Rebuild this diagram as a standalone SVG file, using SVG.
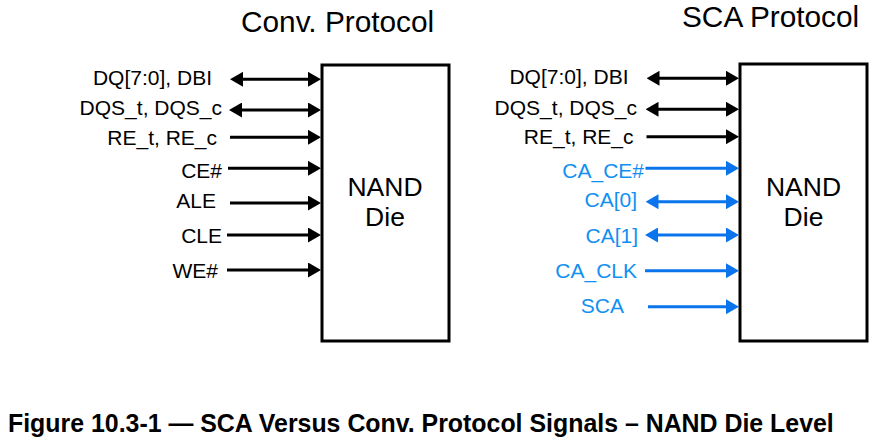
<svg xmlns="http://www.w3.org/2000/svg" width="883" height="444" viewBox="0 0 883 444">
<style>
  text { font-family: "Liberation Sans", Arial, sans-serif; }
  .title { font-size: 29.8px; fill: #000; }
  .lbl { font-size: 21px; text-anchor: end; fill: #000; }
  .lbl.blue { fill: #1190f2; }
  .die { font-size: 26.5px; text-anchor: middle; fill: #000; }
  .box { fill: #fff; stroke: #000; stroke-width: 3; }
  .w { stroke: #000; stroke-width: 3; fill: none; }
  .w.blue { stroke: #0a74ec; }
  .cap { font-size: 24.9px; font-weight: bold; fill: #000; }
</style>
<defs>
  <marker id="ah" markerUnits="userSpaceOnUse" markerWidth="13" markerHeight="15" refX="3" refY="7.5" orient="auto-start-reverse" viewBox="0 0 13 15">
    <path d="M0,0 L13,7.5 L0,15 z" fill="#000"/>
  </marker>
  <marker id="ahb" markerUnits="userSpaceOnUse" markerWidth="13" markerHeight="15" refX="3" refY="7.5" orient="auto-start-reverse" viewBox="0 0 13 15">
    <path d="M0,0 L13,7.5 L0,15 z" fill="#0a74ec"/>
  </marker>
</defs>

<rect width="883" height="444" fill="#fff"/>

<text class="title" x="241" y="31.7">Conv. Protocol</text>
<text class="title" x="682" y="26.7">SCA Protocol</text>

<g id="conv-die">
  <rect class="box" x="322" y="65" width="127" height="276"/>
  <text class="die" x="385" y="196">NAND</text>
  <text class="die" x="385" y="226">Die</text>
</g>

<g id="sca-die">
  <rect class="box" x="740" y="64" width="127" height="277"/>
  <text class="die" x="803.5" y="196">NAND</text>
  <text class="die" x="803.5" y="226">Die</text>
</g>

<g id="conv-labels">
  <text class="lbl" x="212" y="85">DQ[7:0], DBI</text>
  <text class="lbl" x="222" y="115">DQS_t, DQS_c</text>
  <text class="lbl" x="217" y="145">RE_t, RE_c</text>
  <text class="lbl" x="222" y="178">CE#</text>
  <text class="lbl" x="216" y="208.3">ALE</text>
  <text class="lbl" x="222" y="242.7">CLE</text>
  <text class="lbl" x="218" y="277.7">WE#</text>
</g>

<g id="sca-labels">
  <text class="lbl" x="628.5" y="84.3">DQ[7:0], DBI</text>
  <text class="lbl" x="637" y="115">DQS_t, DQS_c</text>
  <text class="lbl" x="633.5" y="144.3">RE_t, RE_c</text>
  <text class="lbl blue" x="644" y="177.7">CA_CE#</text>
  <text class="lbl blue" x="637" y="207.3">CA[0]</text>
  <text class="lbl blue" x="638" y="242.7">CA[1]</text>
  <text class="lbl blue" x="637" y="277.7">CA_CLK</text>
  <text class="lbl blue" x="624" y="312.7">SCA</text>
</g>

<g id="connectors">
  <line class="w" x1="240" y1="79.3" x2="311" y2="79.3" marker-start="url(#ah)" marker-end="url(#ah)"/>
  <line class="w" x1="239" y1="110" x2="311" y2="110" marker-start="url(#ah)" marker-end="url(#ah)"/>
  <line class="w" x1="230" y1="137.3" x2="311" y2="137.3" marker-end="url(#ah)"/>
  <line class="w" x1="228" y1="168.3" x2="311" y2="168.3" marker-end="url(#ah)"/>
  <line class="w" x1="230" y1="203" x2="311" y2="203" marker-end="url(#ah)"/>
  <line class="w" x1="227" y1="235" x2="311" y2="235" marker-end="url(#ah)"/>
  <line class="w" x1="227" y1="270" x2="311" y2="270" marker-end="url(#ah)"/>

  <line class="w" x1="656.5" y1="78.3" x2="729" y2="78.3" marker-start="url(#ah)" marker-end="url(#ah)"/>
  <line class="w" x1="655.5" y1="109.3" x2="729" y2="109.3" marker-start="url(#ah)" marker-end="url(#ah)"/>
  <line class="w" x1="646.5" y1="136.7" x2="729" y2="136.7" marker-end="url(#ah)"/>
  <line class="w blue" x1="645.5" y1="168.3" x2="729" y2="168.3" marker-end="url(#ahb)"/>
  <line class="w blue" x1="655.5" y1="201.7" x2="729" y2="201.7" marker-start="url(#ahb)" marker-end="url(#ahb)"/>
  <line class="w blue" x1="655" y1="235" x2="729" y2="235" marker-start="url(#ahb)" marker-end="url(#ahb)"/>
  <line class="w blue" x1="645" y1="270.7" x2="729" y2="270.7" marker-end="url(#ahb)"/>
  <line class="w blue" x1="648" y1="306.7" x2="729" y2="306.7" marker-end="url(#ahb)"/>
</g>

<text class="cap" x="8" y="431.7">Figure 10.3-1 — SCA Versus Conv. Protocol Signals – NAND Die Level</text>
</svg>
